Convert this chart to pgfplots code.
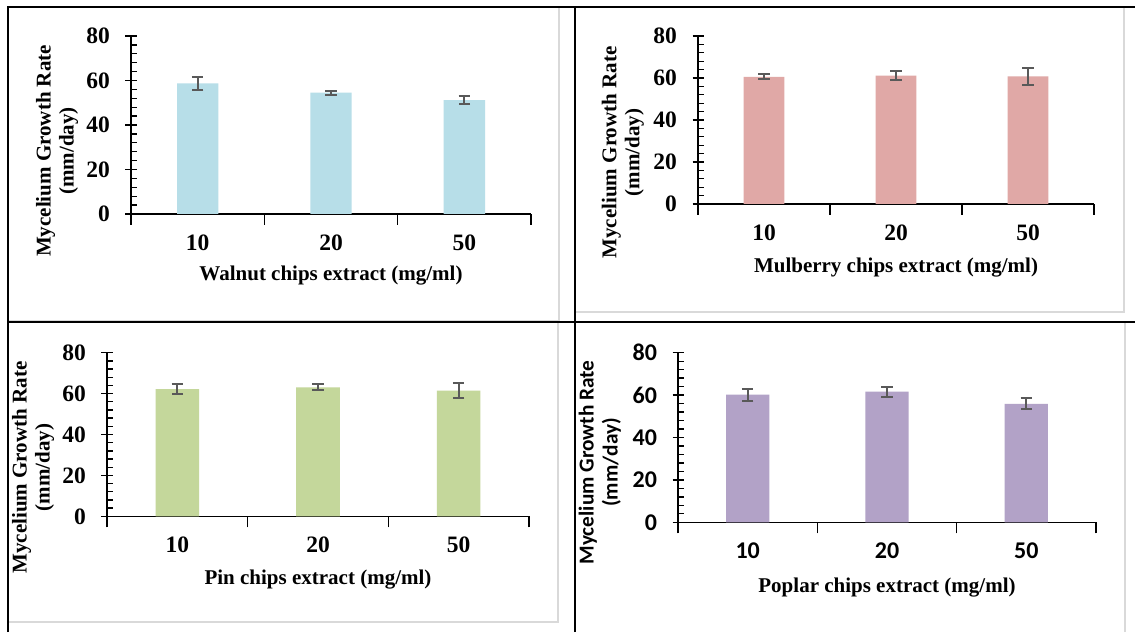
\documentclass[border=0pt]{standalone}
\usepackage{pgfplots}
\pgfplotsset{compat=1.18}
\usepackage{fontspec}
\setmainfont{Liberation Serif}
\newfontfamily\carlito{Carlito}
\definecolor{cBlue}{HTML}{B7DEE8}
\definecolor{cPink}{HTML}{E0A8A6}
\definecolor{cGreen}{HTML}{C4D79B}
\definecolor{cPurple}{HTML}{B2A2C7}
\definecolor{errc}{HTML}{595959}
\definecolor{frmc}{HTML}{D9D9D9}

\pgfplotsset{
 panel/.style={
  scale only axis, anchor=south west,
  ymin=0, ymax=80, ytick={0,20,40,60,80}, minor y tick num=4,
  xmin=-0.5, xmax=2.5,
  axis x line=bottom, axis y line=left,
  axis line style={-, line width=1.6pt, black},
  xtick={-0.5,0.5,1.5,2.5}, xticklabels={},
  extra x ticks={0,1,2}, extra x tick labels={10,20,50},
  extra x tick style={major tick length=0pt, tick style={draw=none}},
  tick align=center, major tick length=11pt, minor tick length=5.5pt,
  every tick/.append style={black, line width=1.3pt},
  major x tick style={yshift=-5.5pt},
  minor y tick style={xshift=2.75pt},
  /pgf/number format/assume math mode=true,
  tick label style={font=\fontsize{23.5}{24}\selectfont\bfseries},
  xticklabel style={yshift=-17pt},
  yticklabel style={xshift=-12pt},
  label style={font=\fontsize{21}{23}\selectfont\bfseries, align=center},
  ylabel={Mycelium Growth Rate\\(mm/day)},
  bar width=0.31,
  error bars/y dir=both, error bars/y explicit,
  error bars/error bar style={line width=2pt, errc},
  error bars/error mark options={rotate=90, mark size=5.8pt, line width=2pt, errc},
 }
}

\begin{document}
\begin{tikzpicture}
\useasboundingbox (0,0) rectangle (1135pt,632pt);
\fill[white] (0,0) rectangle (1135pt,632pt);
% light gray chart frames
\draw[frmc, line width=1.8pt] (8pt,311.5pt) -- (559pt,311.5pt) -- (559pt,625pt);
\draw[frmc, line width=1.8pt] (575pt,320pt) -- (1124pt,320pt) -- (1124pt,625pt);
\draw[frmc, line width=1.8pt] (8pt,10pt) -- (558pt,10pt) -- (558pt,310pt);
\draw[frmc, line width=1.8pt] (1125pt,0pt) -- (1125pt,310pt);
% black table lines
\draw[black, line width=2pt] (8pt,0pt) -- (8pt,625pt) -- (1135pt,625pt);
\draw[black, line width=2pt] (575pt,0pt) -- (575pt,625pt);
\draw[black, line width=2pt] (8pt,310pt) -- (1135pt,310pt);

% Panel 1: Walnut
\begin{axis}[panel, at={(131pt,418pt)}, width=400pt, height=178pt,
  xlabel={Walnut chips extract (mg/ml)},
  ylabel style={at={(axis description cs:-0.185,0.354)}, anchor=center},
  xlabel style={at={(axis description cs:0.5,-0.348)}, anchor=center}]
\addplot[ybar, fill=cBlue, draw=none] coordinates {
 (0,58.7) +- (0,2.9)
 (1,54.5) +- (0,0.9)
 (2,51.2) +- (0,1.8)
};
\end{axis}

% Panel 2: Mulberry
\begin{axis}[panel, at={(698pt,428pt)}, width=396pt, height=168pt,
  xlabel={Mulberry chips extract (mg/ml)},
  ylabel style={at={(axis description cs:-0.19,0.307)}, anchor=center},
  xlabel style={at={(axis description cs:0.5,-0.381)}, anchor=center}]
\addplot[ybar, fill=cPink, draw=none] coordinates {
 (0,60.5) +- (0,1.2)
 (1,61.1) +- (0,2.2)
 (2,60.8) +- (0,4.0)
};
\end{axis}

% Panel 3: Pin
\begin{axis}[panel, at={(107pt,115.7pt)}, width=422pt, height=163.6pt,
  xlabel={Pin chips extract (mg/ml)},
  ylabel style={at={(axis description cs:-0.175,0.298)}, anchor=center},
  xlabel style={at={(axis description cs:0.5,-0.389)}, anchor=center}]
\addplot[ybar, fill=cGreen, draw=none] coordinates {
 (0,62.2) +- (0,2.5)
 (1,63.1) +- (0,1.5)
 (2,61.5) +- (0,3.5)
};
\end{axis}

% Panel 4: Poplar
\begin{axis}[panel, at={(678pt,109.7pt)}, width=418pt, height=169.6pt,
  tick label style={font=\carlito\fontsize{24}{24}\selectfont\bfseries},
  xlabel={Poplar chips extract (mg/ml)},
  ylabel style={at={(axis description cs:-0.187,0.353)}, anchor=center, font=\carlito\fontsize{21.3}{24}\selectfont\bfseries},
  xlabel style={at={(axis description cs:0.5,-0.387)}, anchor=center}]
\addplot[ybar, fill=cPurple, draw=none] coordinates {
 (0,60.2) +- (0,2.9)
 (1,61.6) +- (0,2.4)
 (2,55.9) +- (0,2.6)
};
\end{axis}
\end{tikzpicture}
\end{document}
